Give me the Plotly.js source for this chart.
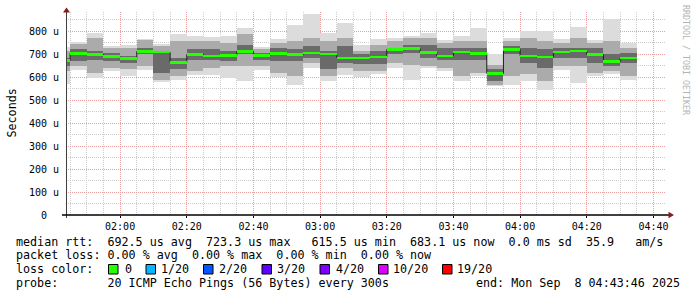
<!DOCTYPE html>
<html><head><meta charset="utf-8">
<script src="https://cdn.plot.ly/plotly-3.0.1.min.js"></script>
<style>html,body{margin:0;padding:0;background:#fff}#chart{width:697px;height:297px}</style>
</head><body><div id="chart"></div>
<script>
// step end times (5-minute smokeping steps), 2025-09-08
const times = ["01:45","01:50","01:55","02:00","02:05","02:10","02:15","02:20","02:25","02:30",
               "02:35","02:40","02:45","02:50","02:55","03:00","03:05","03:10","03:15","03:20",
               "03:25","03:30","03:35","03:40","03:45","03:50","03:55","04:00","04:05","04:10",
               "04:15","04:20","04:25","04:30","04:35"];
// median rtt (microseconds)
const median = [672,703,698,688,680,711,708,663,698,691, 693,712,693,702,698,704,699,683,683,686,
                720,723.3,706,692,709,702,615.5,720,692,686, 709,714,698,667,683.1];
// smoke envelope: outermost pings
const outerHi = [730,751,793,733,738,767,745,785,780,775, 778,811,731,767,824,872,792,833,741,767,
                 770,778,792,763,778,811,701,770,802,802, 767,819,763,853,746];
const outerLo = [570,630,596,625,604,630,578,585,608,608, 596,582,630,601,565,640,582,608,599,611,
                 640,585,640,625,582,604,560,566,582,543, 630,572,604,611,585];
// middle pings
const midHi = [713,744,770,727,727,759,734,756,756,756, 749,785,720,749,756,770,756,770,712,741,
               756,770,770,749,756,756,654,756,770,756, 749,770,749,756,727];
const midLo = [625,647,618,640,633,647,589,604,625,640, 647,647,647,618,604,662,604,640,625,625,
               662,654,647,640,604,618,567,604,611,582, 647,647,618,625,604];
// inner pings (around the median)
const innerHi = [683,720,712,705,691,727,712,683,720,720, 712,741,705,727,720,734,712,734,698,712,
                 727,741,741,727,727,727,633,734,727,720, 727,727,727,698,705];
const innerLo = [647,669,676,669,660,698,618,633,676,676, 669,698,676,669,669,683,633,662,655,655,
                 698,705,683,676,676,676,582,698,662,640, 683,683,662,647,662];
// y tick labels
const yTickVals = [0,100,200,300,400,500,600,700,800];
const yTickText = ["0","100 u","200 u","300 u","400 u","500 u","600 u","700 u","800 u"];
// loss colour legend
const lossLabels = ["0","1/20","2/20","3/20","4/20","10/20","19/20"];
const lossColors = ["#26ff00","#00b8ff","#0059ff","#5e00ff","#7e00ff","#dd00ff","#ff0000"];
const statsLine1 = "median rtt:  692.5 us avg  723.3 us max   615.5 us min  683.1 us now  0.0 ms sd  35.9   am/s";
const statsLine2 = "packet loss: 0.00 % avg  0.00 % max  0.00 % min  0.00 % now";
const probeLine = "probe:       20 ICMP Echo Pings (56 Bytes) every 300s";
const endLine = "end: Mon Sep  8 04:43:46 2025";

const day = "2025-09-08 ";
const X = times.map(t => day + t + ":00");
const STEP = 300000;
const YMAX = 882.6;
const MED_HALF = 5.5;

function band(lo, hi, color, yaxis) {
  return {type:'bar', x:X, base:lo, y:hi.map((h,i)=>h-lo[i]), width:STEP, offset:-STEP,
          marker:{color:color, line:{width:0}}, hoverinfo:'skip', showlegend:false, yaxis:yaxis||'y'};
}
const traces = [
  band(outerLo, outerHi, '#dcdcdc'),
  band(midLo, midHi, '#ababab'),
  band(innerLo, innerHi, '#6a6a6a'),
  {type:'scatter', mode:'lines', x:X, y:median, line:{shape:'vh', color:'#202020', width:1},
   hoverinfo:'skip', showlegend:false},
  band(median.map(m=>m-MED_HALF), median.map(m=>m+MED_HALF), lossColors[0], 'y2')
];

const mono = 'DejaVu Sans Mono';
const PL=66, PW=600, PB=215, PH=203;
const px = x => (x-PL)/PW;
const py = y => (PB-y)/PH;
const nb = s => s.replace(/ /g,'\u00a0');

const shapes = [
  {type:'line', xref:'paper', yref:'paper', x0:px(66.5), x1:px(66.5), y0:py(11), y1:py(218), line:{color:'#404040', width:1}},
  {type:'line', xref:'paper', yref:'paper', x0:px(62), x1:px(670), y0:py(215), y1:py(215), line:{color:'#000', width:1.5}},
  {type:'path', xref:'paper', yref:'paper', path:`M ${px(66.5)} ${py(7.5)} L ${px(63)} ${py(12.5)} L ${px(70)} ${py(12.5)} Z`, fillcolor:'#8b1a1a', line:{width:0}},
  {type:'path', xref:'paper', yref:'paper', path:`M ${px(674)} ${py(215)} L ${px(668.5)} ${py(211.8)} L ${px(668.5)} ${py(218.2)} Z`, fillcolor:'#8b1a1a', line:{width:0}}
];
const sqX = [108.5,146,203.5,262,320,378.5,442.5];
const labX = [123.5,160,217.5,276,334.5,392,456];
lossColors.forEach((c,i)=>{
  shapes.push({type:'rect', xref:'paper', yref:'paper', x0:px(sqX[i]), x1:px(sqX[i]+9.5), y0:py(274), y1:py(264.5),
               fillcolor:c, line:{color:'#000', width:1}});
});

const tf = {family:mono, size:11.7, color:'#000'};
const ann = (x,y,text,opts) => Object.assign({xref:'paper', yref:'paper', x:px(x), y:py(y), text:nb(text),
   showarrow:false, xanchor:'left', yanchor:'middle', font:tf, borderpad:0}, opts||{});
const annotations = [
  ann(15,241.7,statsLine1),
  ann(15,255,statsLine2),
  ann(15,269.3,"loss color:"),
  ann(15,283.3,probeLine),
  ann(680.5,283.3,endLine,{xanchor:'right'}),
  ann(11,113.5,"Seconds",{xanchor:'center', textangle:-90}),
  ann(686,60,"RRDTOOL / TOBI OETIKER",{xanchor:'center', textangle:90, font:{family:mono, size:8.3, color:'#b4b4b4'}})
];
lossLabels.forEach((l,i)=>annotations.push(ann(labX[i],269.3,l)));

const layout = {
  width:697, height:297, margin:{l:PL, r:697-PL-PW, t:PB-PH, b:297-PB, pad:0},
  paper_bgcolor:'#ffffff', plot_bgcolor:'#ffffff', barmode:'overlay', bargap:0, showlegend:false,
  font:{family:mono, size:10, color:'#000'},
  xaxis:{type:'date', range:[day+'01:43:46', day+'04:43:46'], tick0:day+'00:00:00', dtick:1200000,
         tickformat:'%H:%M', showgrid:true, gridcolor:'#eaa0a0', griddash:'1px,1px', gridwidth:1,
         minor:{dtick:STEP, tick0:day+'00:00:00', showgrid:true, gridcolor:'#cccccc', griddash:'1px,1px', gridwidth:1},
         ticks:'outside', ticklen:2, tickcolor:'#000', zeroline:false, showline:false, fixedrange:true,
         tickfont:{family:mono, size:10, color:'#000'}},
  yaxis:{range:[0,YMAX], tickmode:'array', tickvals:yTickVals, ticktext:yTickText.map(t=>{const p=(5-t.length)/2; return '\u00a0'.repeat(Math.floor(p))+nb(t)+'\u00a0'.repeat(Math.ceil(p));}),
         showgrid:true, gridcolor:'#eaa0a0', griddash:'1px,1px', gridwidth:1,
         minor:{dtick:50, showgrid:true, gridcolor:'#cccccc', griddash:'1px,1px', gridwidth:1},
         ticks:'', ticklabelstandoff:6, zeroline:false, showline:false, fixedrange:true,
         tickfont:{family:mono, size:10, color:'#000'}},
  yaxis2:{range:[0,YMAX], overlaying:'y', visible:false, fixedrange:true},
  shapes:shapes, annotations:annotations
};
Plotly.newPlot('chart', traces, layout, {staticPlot:true, displayModeBar:false});
</script></body></html>
